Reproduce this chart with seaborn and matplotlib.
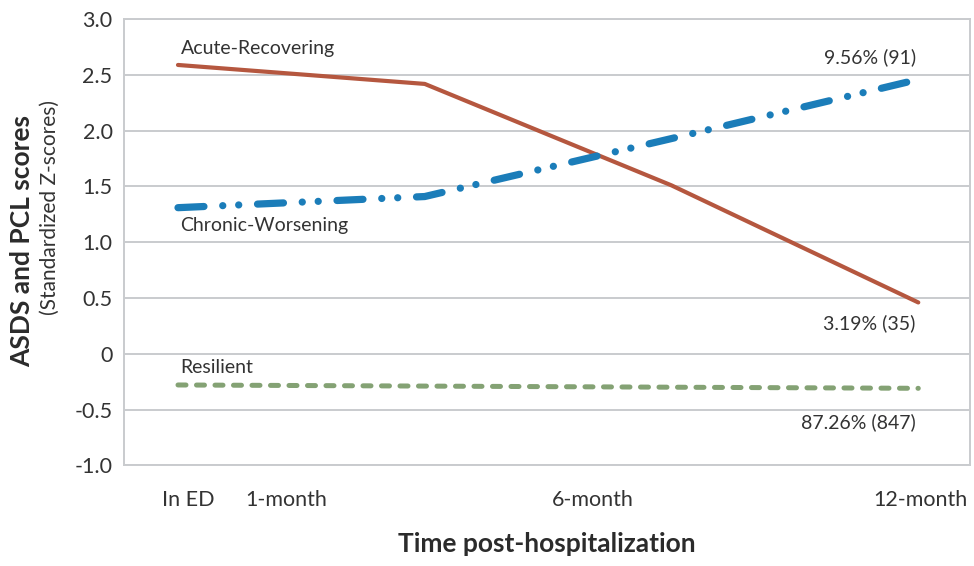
import numpy as np
import pandas as pd
import matplotlib
matplotlib.use('Agg')
import matplotlib.pyplot as plt
import seaborn as sns

# datos
time_idx = [0, 1, 2, 3]
acute = [2.59, 2.42, 1.51, 0.46]
chronic = [1.31, 1.41, 1.93, 2.46]
resilient = [-0.28, -0.29, -0.30, -0.31]

x_tick_pos = [0.04, 0.44, 1.68, 3.01]
x_tick_labels = ['In ED', '1-month', '6-month', '12-month']
y_ticks = [-1.0, -0.5, 0, 0.5, 1.0, 1.5, 2.0, 2.5, 3.0]
y_tick_labels = ['-1.0', '-0.5', '0', '0.5', '1.0', '1.5', '2.0', '2.5', '3.0']

class_labels = ['Acute-Recovering', 'Chronic-Worsening', 'Resilient']
class_pct = ['3.19% (35)', '9.56% (91)', '87.26% (847)']

df = pd.DataFrame({
    'time': time_idx * 3,
    'score': acute + chronic + resilient,
    'group': np.repeat(class_labels, len(time_idx)),
})

sns.set_theme(style='white')
plt.rcParams['font.family'] = ['Lato', 'DejaVu Sans']

fig = plt.figure(figsize=(9.74, 5.66), dpi=100)
ax = fig.add_axes([0.127, 0.178, 0.869, 0.788])

styles = {
    'Acute-Recovering': dict(color='#B5573F', lw=3.0, dashes=None),
    'Chronic-Worsening': dict(color='#1B7DB9', lw=5.2, dashes=(3.6, 2.6, 0.01, 2.2, 0.01, 2.6)),
    'Resilient': dict(color='#84A274', lw=3.6, dashes=(1.6, 2.1)),
}
for g in class_labels:
    st = styles[g]
    sub = df[df['group'] == g]
    sns.lineplot(data=sub, x='time', y='score', color=st['color'], lw=st['lw'], ax=ax)
    ln = ax.lines[-1]
    ln.set_solid_capstyle('round')
    ln.set_dash_capstyle('round')
    if st['dashes'] is not None:
        ln.set_dashes(st['dashes'])

ax.set_xlim(-0.22, 3.21)
ax.set_ylim(-1.0, 3.0)
ax.set_yticks(y_ticks)
ax.set_yticklabels(y_tick_labels)
ax.set_xticks(x_tick_pos)
ax.set_xticklabels(x_tick_labels)
ax.tick_params(axis='both', length=0, labelsize=15.5, labelcolor='#333333')
ax.tick_params(axis='x', pad=18)
ax.tick_params(axis='y', pad=8)
ax.yaxis.grid(True, color='#C9CBCE', lw=1.4)
ax.xaxis.grid(False)
for s in ax.spines.values():
    s.set_color('#C9CBCE')
    s.set_linewidth(1.4)

ax.set_xlabel('Time post-hospitalization', fontsize=19, fontweight='bold', color='#2b2b2b', labelpad=16)
ax.set_ylabel('')
fig.text(0.023, 1 - 241 / 566, 'ASDS and PCL scores', rotation=90, fontsize=19, fontweight='bold',
         color='#2b2b2b', ha='center', va='center')
fig.text(0.051, 1 - 208 / 566, '(Standardized Z-scores)', rotation=90, fontsize=15,
         color='#333333', ha='center', va='center')

txt = dict(fontsize=14, color='#333333')
ax.text(0.01, 2.74, class_labels[0], ha='left', va='center', **txt)
ax.text(0.01, 1.15, class_labels[1], ha='left', va='center', **txt)
ax.text(0.01, -0.12, class_labels[2], ha='left', va='center', **txt)
ax.text(2.99, 2.66, class_pct[1], ha='right', va='center', **txt)
ax.text(2.99, 0.27, class_pct[0], ha='right', va='center', **txt)
ax.text(2.99, -0.61, class_pct[2], ha='right', va='center', **txt)

fig.savefig('out.png', dpi=100)
